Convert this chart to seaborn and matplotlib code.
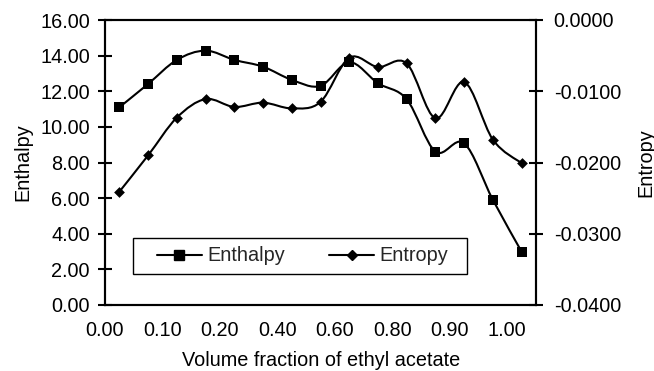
import numpy as np
import pandas as pd
import matplotlib
matplotlib.use("Agg")
import matplotlib.pyplot as plt
import seaborn as sns
from matplotlib.path import Path
from matplotlib.patches import PathPatch, Rectangle
from matplotlib.lines import Line2D
from matplotlib.ticker import FuncFormatter, FixedLocator, MultipleLocator

# ---- data ----
tick_labels = ["0.00", "0.10", "0.20", "0.40", "0.60", "0.80", "0.90", "1.00"]
enthalpy = [11.10, 12.41, 13.76, 14.28, 13.76, 13.38, 12.64, 12.30,
            13.63, 12.45, 11.55, 8.61, 9.08, 5.90, 2.99]
entropy = [-0.0241, -0.0190, -0.0137, -0.0111, -0.0122, -0.0116, -0.0124, -0.0115,
           -0.0053, -0.0066, -0.0061, -0.0138, -0.0087, -0.0168, -0.0201]

sns.set_theme(style="white")
plt.rcParams["font.family"] = ["Liberation Sans", "DejaVu Sans"]
FS = 14.3

n = len(enthalpy)
df = pd.DataFrame({"pos": np.arange(n) + 0.5, "Enthalpy": enthalpy, "Entropy": entropy})


def smooth_path(x, y):
    x = np.asarray(x, float)
    y = np.asarray(y, float)
    px = np.concatenate([[x[0]], x, [x[-1]]])
    py = np.concatenate([[y[0]], y, [y[-1]]])
    verts = [(x[0], y[0])]
    codes = [Path.MOVETO]
    for i in range(1, len(x)):
        j = i
        c1 = (px[j] + (px[j + 1] - px[j - 1]) / 6, py[j] + (py[j + 1] - py[j - 1]) / 6)
        c2 = (px[j + 1] - (px[j + 2] - px[j]) / 6, py[j + 1] - (py[j + 2] - py[j]) / 6)
        verts += [c1, c2, (px[j + 1], py[j + 1])]
        codes += [Path.CURVE4] * 3
    return Path(verts, codes)


fig = plt.figure(figsize=(6.54, 3.71), dpi=100)
ax = fig.add_axes([105 / 654, 1 - 305 / 371, 431 / 654, 285 / 371])
ax2 = ax.twinx()

ax.add_patch(PathPatch(smooth_path(df["pos"], df["Enthalpy"]), fill=False,
                       edgecolor="black", lw=1.5, zorder=2))
ax2.add_patch(PathPatch(smooth_path(df["pos"], df["Entropy"]), fill=False,
                        edgecolor="black", lw=1.5, zorder=2))
sns.scatterplot(data=df, x="pos", y="Enthalpy", ax=ax, marker="s", s=62,
                color="black", edgecolor="black", linewidth=0, zorder=3)
sns.scatterplot(data=df, x="pos", y="Entropy", ax=ax2, marker="D", s=30,
                color="black", edgecolor="black", linewidth=0, zorder=3)

ax.set_xlim(0, n)
ax.set_ylim(0, 16)
ax2.set_ylim(-0.04, 0)
ax.xaxis.set_major_locator(FixedLocator(np.arange(0, n, 2)))
ax.set_xticklabels(tick_labels)
ax.yaxis.set_major_locator(MultipleLocator(2))
ax.yaxis.set_major_formatter(FuncFormatter(lambda v, p: f"{v:.2f}"))
ax2.yaxis.set_major_locator(MultipleLocator(0.01))
ax2.yaxis.set_major_formatter(FuncFormatter(lambda v, p: f"{v:.4f}"))

for a in (ax, ax2):
    for s in a.spines.values():
        s.set_color("black")
        s.set_linewidth(1.5)
    a.grid(False)
ax.tick_params(axis="both", direction="inout", length=9.4, width=1.5,
               color="black", labelsize=FS, labelcolor="black")
ax.tick_params(axis="y", pad=6.1)
ax.tick_params(axis="x", pad=7)
ax2.tick_params(axis="y", direction="inout", length=9.4, width=1.5,
                color="black", labelsize=FS, labelcolor="black", pad=8)

ax.set_xlabel("Volume fraction of ethyl acetate", fontsize=FS, color="black")
ax.set_ylabel("Enthalpy", fontsize=FS, color="black")
ax2.set_ylabel("Entropy", fontsize=FS, color="black")
ax.xaxis.set_label_coords(0.5007, -0.161)
ax.yaxis.set_label_coords(-0.168, 0.5)
ax2.yaxis.set_label_coords(1.232, 0.5)

# legend
ax2.add_patch(Rectangle((0.065, 0.1088), 0.775, 0.1263, transform=ax2.transAxes,
                        facecolor="white", edgecolor="black", lw=1.0, zorder=4))
handles = [Line2D([], [], color="black", lw=1.5, marker="s", markersize=7.5),
           Line2D([], [], color="black", lw=1.5, marker="D", markersize=5.5)]
leg = ax2.legend(handles, ["Enthalpy", "Entropy"], ncol=2, frameon=False,
                 loc="center", bbox_to_anchor=(0.458, 0.172), fontsize=FS,
                 handlelength=2.3, handletextpad=0.25, columnspacing=2.2,
                 borderpad=0.2)
leg.set_zorder(5)

fig.savefig("out.png", dpi=100)
